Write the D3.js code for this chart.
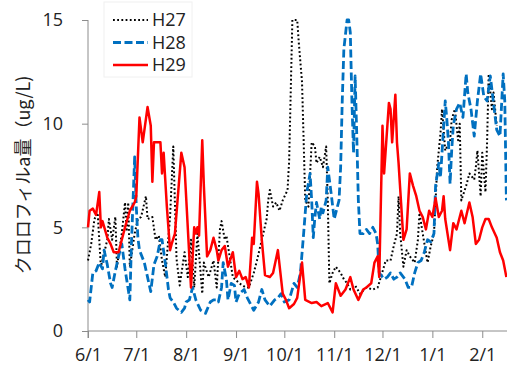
<!DOCTYPE html>
<html>
<head>
<meta charset="utf-8">
<script src="https://cdn.jsdelivr.net/npm/d3@7"></script>
<style>
  body { margin: 0; background: #fff; overflow: hidden; }
  svg { display: block; }
  .axis path, .axis line { stroke: #8c8c8c; }
</style>
</head>
<body>
<div id="chart"></div>
<script>
// days counted from 6/1
const h27Day = [0,2,4,6,8,12,13,15,17,18,21,23,24,25,26,29,31,33,36,37,40,42,44,46,48,51,53,55,57,60,62,64,66,68,71,72,75,78,80,82,83,85,86,89,90,94,98,100,103,105,108,111,112,113,115,117,119,121,124,125,127,130,131,133,134,135,137,139,141,142,144,146,148,149,150,152,154,157,159,161,163,166,169,173,177,180,182,185,188,190,192,193,194,196,198,200,203,205,206,208,211,213,215,217,219,220,222,225,226,228,230,231,232,235,237,240,241,242,244,245,247,248,249,251,252,254];
const h27Val = [3.4,4.2,5.4,5.7,3.1,4.4,5.4,4.4,5.5,3.1,4.7,6.2,4.8,6.2,3.1,4.7,5.4,5.5,6.5,5.4,5.5,4.4,4.6,3.4,2.6,5.5,8.9,3.5,2.2,3.8,2.6,4.4,2.1,4.7,1.8,3.3,2.6,3.4,2.1,4.9,5.3,4.4,4.6,3.1,2.6,2.3,2.1,2.1,2.8,3.4,4.4,5.4,6.3,6.8,6.0,6.2,5.8,6.3,6.8,8.2,15,15,13.9,12.0,9.2,6.3,6.0,9.1,8.9,8.1,8.4,7.9,8.9,6.3,2.3,2.8,3.1,2.8,2.5,2.3,2.0,2.2,1.8,2.1,2.0,2.1,2.6,3.4,3.4,4.1,4.7,6.5,4.7,3.1,3.9,3.6,3.3,4.4,5.7,4.7,3.3,4.1,4.7,7.9,9.5,10.7,8.7,9.2,10.2,10.7,9.2,10.0,6.3,7.0,7.6,7.3,7.9,8.7,6.5,8.6,6.7,9.1,12.4,10.7,11.5,9.9];

const h28Day = [0,1,3,5,7,9,10,12,14,15,17,19,21,23,24,26,27,29,30,31,32,35,37,39,41,43,45,46,48,50,51,53,55,58,60,61,63,65,67,70,73,76,78,80,81,83,84,86,87,89,91,92,94,97,99,103,106,108,110,113,116,118,120,122,125,128,130,132,134,136,138,139,140,141,142,144,145,146,148,149,151,153,154,156,157,158,159,161,162,163,164,165,166,167,168,169,171,173,175,177,179,180,181,184,186,188,190,192,194,197,199,201,203,205,207,209,211,213,215,216,218,219,220,222,223,224,225,226,227,229,231,233,235,236,238,240,242,244,246,248,250,252,254,256,258,259,260];
const h28Val = [1.5,1.4,2.8,2.9,3.3,3.0,3.9,3.2,2.3,2.1,2.9,3.6,4.2,3.0,2.5,1.5,4.2,8.4,6.0,4.5,3.9,3.3,2.6,1.9,3.2,3.6,4.4,4.4,3.3,2.0,1.6,1.4,1.1,0.9,1.1,1.4,1.5,2.1,1.5,1.0,0.85,1.4,1.5,1.5,1.4,2.1,3.3,2.5,1.5,2.3,2.2,1.4,1.8,2.0,1.6,1.0,1.4,2.0,1.5,1.2,1.5,1.6,1.8,1.4,1.5,2.3,2.1,2.8,4.7,6.7,7.6,6.3,4.5,5.5,6.2,5.4,6.0,5.7,6.3,7.9,6.7,5.4,5.7,6.3,7.9,11.1,13.6,15,15,14.4,11.1,8.6,12.3,9.5,6.3,4.7,4.7,4.9,4.7,5.0,4.7,4.2,2.8,2.5,2.6,2.8,2.5,2.6,2.8,2.5,2.1,2.1,2.8,3.3,3.4,3.8,4.4,4.3,4.7,7.0,8.1,7.4,8.6,11.1,10.2,9.1,7.1,8.7,9.9,10.7,11.0,10.3,12.4,11.5,10.7,9.4,11.1,12.4,11.3,11.1,12.3,11.0,9.7,9.4,12.4,11.1,6.3];

const h29Day = [0,1,3,5,7,8,9,12,14,16,19,21,23,26,29,30,32,34,37,39,40,41,43,45,46,47,49,51,52,54,58,60,64,66,67,68,69,71,72,74,76,78,80,81,83,85,87,90,92,94,96,98,100,102,103,105,106,108,110,113,115,118,121,123,125,128,130,133,135,139,142,145,149,152,154,157,160,163,165,168,171,173,176,178,180,181,183,184,187,188,189,191,192,193,196,198,200,202,204,206,208,210,212,214,216,218,220,221,222,225,227,229,231,232,234,237,239,241,243,245,247,249,251,254,256,258,259,260];
const h29Val = [5.0,5.8,5.9,5.6,6.7,5.0,5.3,4.5,4.2,3.8,3.8,4.4,5.0,5.8,6.2,6.5,10.3,9.1,10.8,9.9,7.2,9.1,9.1,9.1,7.6,8.6,6.0,3.9,4.2,4.7,8.6,7.9,2.1,5.0,4.7,5.0,4.6,9.2,7.0,3.6,3.9,4.5,3.9,3.4,3.9,4.1,3.1,3.8,2.6,2.9,2.5,2.6,2.1,4.5,4.2,7.2,6.6,4.4,2.7,2.6,2.8,3.9,1.8,1.5,1.1,1.3,1.6,3.3,1.5,1.35,1.4,1.2,1.35,0.9,2.3,1.7,2.0,2.6,2.0,1.5,2.0,2.1,2.3,3.3,3.6,2.6,9.9,7.6,11.0,10.7,9.1,11.4,9.1,8.1,4.4,4.9,7.6,7.0,6.5,5.8,5.5,4.9,5.8,5.5,6.4,5.5,5.8,6.5,5.4,3.9,5.2,4.9,5.5,5.8,5.2,6.2,5.5,4.2,4.4,5.0,5.4,5.4,5.0,4.5,3.8,3.4,3.0,2.6];

const seriesNames = ["H27", "H28", "H29"];
const yTicks = [0, 5, 10, 15];
const yLabel = "クロロフィルa量（ug/L)";

const width = 507, height = 370;
const margin = {top: 20, right: 0, bottom: 39, left: 88};
const innerHeight = height - margin.top - margin.bottom;

const start = new Date(Date.UTC(2017, 5, 1));
const toDate = d => d3.utcDay.offset(start, d);

const xScale = d3.scaleUtc()
    .domain([start, toDate(261)])
    .range([0, 420]);
const yScale = d3.scaleLinear()
    .domain([0, 15])
    .range([innerHeight, 0]);

const series = [
  {name: seriesNames[0], days: h27Day, vals: h27Val, color: "#000000", width: 2, dash: "1.8,2.4"},
  {name: seriesNames[1], days: h28Day, vals: h28Val, color: "#0070c0", width: 2.8, dash: "8,3.5"},
  {name: seriesNames[2], days: h29Day, vals: h29Val, color: "#ff0000", width: 2.5, dash: null}
];

const svg = d3.select("#chart").append("svg")
    .attr("width", width)
    .attr("height", height);

const g = svg.append("g")
    .attr("transform", "translate(" + margin.left + "," + margin.top + ")");

g.append("g")
    .attr("class", "x axis")
    .attr("transform", "translate(0," + innerHeight + ")")
    .call(d3.axisBottom(xScale)
      .ticks(d3.utcMonth.every(1))
      .tickFormat(d3.utcFormat("%-m/%-d"))
      .tickSizeInner(7)
      .tickSizeOuter(0)
      .tickPadding(10))
  .call(a => a.select(".domain").attr("d", "M0,0H425"));

g.append("g")
    .attr("class", "y axis")
    .call(d3.axisLeft(yScale)
      .tickValues(yTicks)
      .tickSizeInner(6)
      .tickSizeOuter(0)
      .tickPadding(19))
  .call(a => a.select(".domain").attr("d", "M0,0V" + (innerHeight + 7)));

g.selectAll(".axis text")
    .attr("font-family", "'Open Sans', sans-serif")
    .attr("font-size", 18)
    .attr("fill", "#222");

svg.append("text")
    .attr("transform", "translate(24,175) rotate(-90)")
    .attr("text-anchor", "middle")
    .attr("dy", "0.35em")
    .attr("font-family", "'Noto Sans CJK JP', sans-serif")
    .attr("font-size", 18)
    .attr("fill", "#222")
    .text(yLabel);

const line = d3.line()
    .x(d => xScale(toDate(d[0])))
    .y(d => yScale(d[1]));

g.selectAll(".series")
  .data(series)
  .enter().append("path")
    .attr("class", "series")
    .attr("fill", "none")
    .attr("stroke", d => d.color)
    .attr("stroke-width", d => d.width)
    .attr("stroke-dasharray", d => d.dash)
    .attr("stroke-linejoin", "round")
    .attr("d", d => line(d.days.map((day, i) => [day, d.vals[i]])));

// legend
const legend = svg.append("g").attr("transform", "translate(104,2)");
legend.append("rect")
    .attr("width", 88)
    .attr("height", 75)
    .attr("fill", "#fff")
    .attr("stroke", "#f0f0f0");

const items = legend.selectAll(".item")
  .data(series)
  .enter().append("g")
    .attr("class", "item")
    .attr("transform", (d, i) => "translate(0," + (18 + i * 22.5) + ")");

items.append("line")
    .attr("x1", 9).attr("x2", 44)
    .attr("stroke", d => d.color)
    .attr("stroke-width", d => d.width)
    .attr("stroke-dasharray", d => d.dash);

items.append("text")
    .attr("x", 48)
    .attr("dy", "0.35em")
    .attr("font-family", "'Open Sans', sans-serif")
    .attr("font-size", 18)
    .attr("fill", "#222")
    .text(d => d.name);
</script>
</body>
</html>
